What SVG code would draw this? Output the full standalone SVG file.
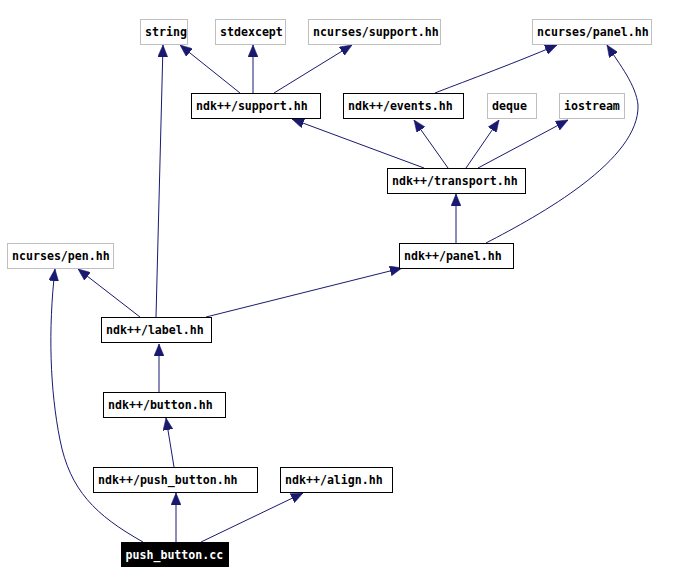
<svg xmlns="http://www.w3.org/2000/svg" width="680" height="584" viewBox="0 0 680 584">
<style>
.n rect{fill:#fff;stroke:#000;stroke-width:1}
.x rect{fill:#fff;stroke:#bfbfbf;stroke-width:1}
.r rect{fill:#000;stroke:#000;stroke-width:1}
text{font-family:"DejaVu Sans Mono","Liberation Mono",monospace;font-weight:bold;font-size:11.6px;fill:#000}
.r text{fill:#fff}
#edges path{fill:none;stroke:#191970;stroke-width:1;marker-end:url(#ah)}
</style>
<defs>
<marker id="ah" markerUnits="userSpaceOnUse" viewBox="0 0 12 10" markerWidth="12" markerHeight="10" refX="12" refY="5" orient="auto">
<path d="M0,0 L12,5 L0,10 z" fill="#191970" stroke="#191970" stroke-width="0.5"/>
</marker>
</defs>
<rect width="680" height="584" fill="#fff"/>
<g id="edges">
<path d="M240,93 L180,45"/>
<path d="M253,93 L253,45"/>
<path d="M274,93 L352,45"/>
<path d="M435,93 C455,85 510,65 557,45"/>
<path d="M486,243 C540,215 640,160 638,105 C636,85 620,65 607,45"/>
<path d="M424,168 L292,119"/>
<path d="M448,168 L414,120"/>
<path d="M466,168 L499,120"/>
<path d="M478,168 L568,120"/>
<path d="M456,243 L456,194"/>
<path d="M206,317 L402,268"/>
<path d="M156,317 L163,45"/>
<path d="M140,317 L78,269"/>
<path d="M159,392 L159,344"/>
<path d="M174,467 L166,418"/>
<path d="M176,542 L176,493"/>
<path d="M201,542 L303,493"/>
<path d="M143,542 C95,515 70,490 60,440 C50,390 48,330 55,269"/>
</g>
<g id="string" class="x"><rect x="140.5" y="19.5" width="47" height="25"/><text x="145" y="35.5">string</text></g>
<g id="stdexcept" class="x"><rect x="215.5" y="19.5" width="70" height="25"/><text x="220" y="35.5">stdexcept</text></g>
<g id="ncurses_support" class="x"><rect x="308.5" y="19.5" width="132" height="25"/><text x="313" y="35.5">ncurses/support.hh</text></g>
<g id="ncurses_panel" class="x"><rect x="532.5" y="19.5" width="119" height="25"/><text x="537" y="35.5">ncurses/panel.hh</text></g>
<g id="ndk_support" class="n"><rect x="191.5" y="93.5" width="129" height="25"/><text x="196" y="109.5">ndk++/support.hh</text></g>
<g id="ndk_events" class="n"><rect x="343.5" y="93.5" width="120" height="25"/><text x="348" y="109.5">ndk++/events.hh</text></g>
<g id="deque" class="x"><rect x="487.5" y="93.5" width="49" height="25"/><text x="492" y="109.5">deque</text></g>
<g id="iostream" class="x"><rect x="559.5" y="93.5" width="65" height="25"/><text x="564" y="109.5">iostream</text></g>
<g id="ndk_transport" class="n"><rect x="387.5" y="168.5" width="138" height="25"/><text x="392" y="184.5">ndk++/transport.hh</text></g>
<g id="ncurses_pen" class="x"><rect x="7.5" y="243.5" width="106" height="25"/><text x="12" y="259.5">ncurses/pen.hh</text></g>
<g id="ndk_panel" class="n"><rect x="399.5" y="243.5" width="114" height="25"/><text x="404" y="259.5">ndk++/panel.hh</text></g>
<g id="ndk_label" class="n"><rect x="101.5" y="317.5" width="110" height="25"/><text x="106" y="333.5">ndk++/label.hh</text></g>
<g id="ndk_button" class="n"><rect x="103.5" y="392.5" width="122" height="25"/><text x="108" y="408.5">ndk++/button.hh</text></g>
<g id="ndk_push_button" class="n"><rect x="93.5" y="467.5" width="164" height="25"/><text x="98" y="483.5">ndk++/push_button.hh</text></g>
<g id="ndk_align" class="n"><rect x="280.5" y="467.5" width="112" height="25"/><text x="285" y="483.5">ndk++/align.hh</text></g>
<g id="push_button_cc" class="r"><rect x="121.5" y="542.5" width="107" height="24"/><text x="125.5" y="558.5">push_button.cc</text></g>
</svg>
